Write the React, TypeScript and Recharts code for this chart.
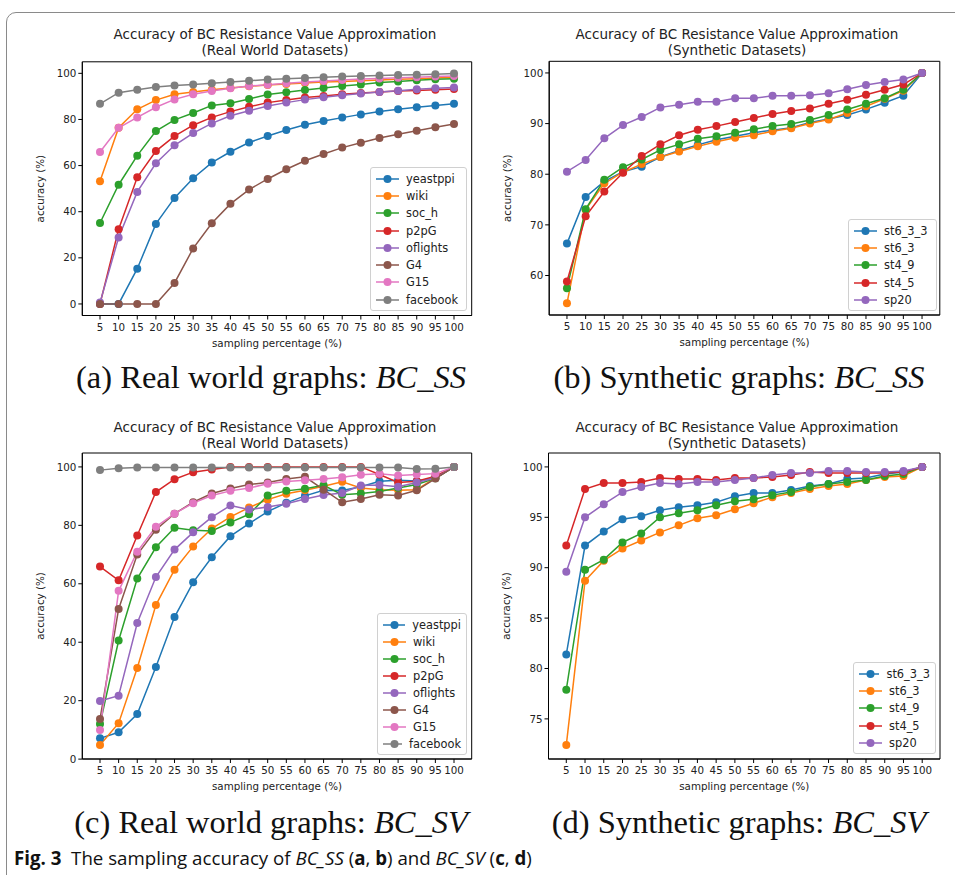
import React from 'react'
import { LineChart, Line, XAxis, YAxis, Legend, ReferenceArea } from 'recharts'

// sampling percentages on the x axis
const samplingPct = [5, 10, 15, 20, 25, 30, 35, 40, 45, 50, 55, 60, 65, 70, 75, 80, 85, 90, 95, 100]

const realNames = ['yeastppi', 'wiki', 'soc_h', 'p2pG', 'oflights', 'G4', 'G15', 'facebook']
const synthNames = ['st6_3_3', 'st6_3', 'st4_9', 'st4_5', 'sp20']
const tabColors = ['#1f77b4', '#ff7f0e', '#2ca02c', '#d62728', '#9467bd', '#8c564b', '#e377c2', '#7f7f7f']

const realTicks = [0, 20, 40, 60, 80, 100]
const ssSynthTicks = [60, 70, 80, 90, 100]
const svSynthTicks = [75, 80, 85, 90, 95, 100]

// (a) BC_SS, real world
const ssYeastppi = [0, 0, 15.3, 34.7, 46, 54.5, 61.3, 66, 70, 72.8, 75.4, 77.7, 79.3, 80.8, 82.2, 83.4, 84.4, 85.3, 86, 86.8]
const ssWiki = [53.2, 76.4, 84.4, 88.4, 90.9, 91.9, 92.9, 93.6, 94.4, 94.9, 95.4, 95.8, 96.2, 96.5, 96.8, 97.1, 97.4, 97.7, 98, 98.3]
const ssSocH = [35.1, 51.7, 64.3, 75, 79.8, 82.8, 86.1, 87, 88.9, 90.8, 91.8, 92.8, 93.6, 94.5, 95.2, 96, 96.5, 97, 97.4, 97.7]
const ssP2pG = [0, 32.4, 54.9, 66.3, 72.8, 77.5, 80.9, 83.4, 85.5, 87.3, 88.4, 89.5, 90.2, 90.9, 91.5, 91.9, 92.3, 92.6, 92.9, 93.2]
const ssOflights = [0.6, 28.8, 48.6, 61, 68.8, 74.1, 78.3, 81.6, 83.8, 85.8, 87.3, 88.6, 89.6, 90.5, 91.3, 91.9, 92.5, 93.1, 93.5, 93.9]
const ssG4 = [0, 0, 0, 0, 9.1, 24.1, 35, 43.4, 49.6, 54.2, 58.4, 62.1, 65, 67.8, 69.9, 72, 73.6, 75.1, 76.6, 78]
const ssG15 = [65.9, 76.4, 80.9, 85.3, 88.7, 90.9, 92.3, 93.5, 94.5, 95.1, 95.7, 96.2, 96.7, 97.1, 97.5, 97.8, 98.1, 98.3, 98.6, 98.8]
const ssFacebook = [86.8, 91.6, 92.9, 94.1, 94.7, 95.2, 95.7, 96.2, 96.8, 97.3, 97.7, 98, 98.3, 98.6, 98.8, 99.1, 99.3, 99.4, 99.6, 99.9]

// (b) BC_SS, synthetic
const ssSt633 = [66.3, 75.5, 78.6, 80.5, 81.5, 83.4, 84.7, 85.8, 86.8, 87.5, 88.2, 88.7, 89.2, 90.2, 90.9, 91.7, 92.8, 94.1, 95.5, 100]
const ssSt63 = [54.5, 73, 78.2, 80.4, 82, 83.4, 84.5, 85.5, 86.4, 87.2, 87.7, 88.5, 89.1, 90, 90.8, 92.1, 93.4, 94.9, 96.5, 100]
const ssSt49 = [57.5, 73.1, 78.9, 81.4, 82.9, 84.8, 85.9, 87, 87.5, 88.2, 88.9, 89.5, 89.9, 90.7, 91.7, 92.8, 93.9, 95, 96.7, 100]
const ssSt45 = [58.8, 71.7, 76.6, 80.3, 83.6, 85.9, 87.7, 88.8, 89.5, 90.3, 91.1, 91.9, 92.5, 93, 93.9, 94.7, 95.7, 96.7, 97.7, 100]
const ssSp20 = [80.5, 82.8, 87.1, 89.7, 91.3, 93.2, 93.7, 94.3, 94.3, 95, 95, 95.5, 95.5, 95.6, 96, 96.8, 97.6, 98.2, 98.7, 100]

// (c) BC_SV, real world
const svYeastppi = [7.1, 9.2, 15.4, 31.5, 48.6, 60.5, 69.1, 76.3, 80.6, 84.7, 87.7, 90.1, 92, 91.9, 93.2, 95.1, 95.4, 95.2, 96.2, 100]
const svWiki = [4.8, 12.3, 31.2, 52.7, 64.8, 72.8, 78.9, 82.9, 86.1, 88.8, 90.8, 92, 93.4, 94.9, 92.8, 92.2, 92, 92.2, 96.2, 100]
const svSocH = [12, 40.6, 61.8, 72.5, 79.2, 78.3, 78.1, 81, 83.8, 90.2, 91.8, 92.5, 93.7, 90.5, 90.9, 91.6, 92.8, 94, 96.1, 100]
const svP2pG = [65.9, 61.2, 76.5, 91.4, 95.8, 98.2, 99.1, 100, 100, 100, 100, 100, 100, 100, 100, 97.4, 94.7, 95.1, 96.8, 100]
const svOflights = [19.9, 21.7, 46.6, 62.3, 71.7, 77.6, 82.8, 86.8, 85.4, 86.3, 87.4, 89, 90.4, 91.1, 93.6, 93.8, 93.2, 94.7, 96.2, 100]
const svG4 = [13.7, 51.4, 70, 78.5, 84, 87.9, 90.9, 92.6, 94, 94.7, 95.9, 96.6, 92.2, 87.9, 89, 90.5, 90.2, 92, 96, 100]
const svG15 = [10, 57.6, 71, 79.5, 84, 87.6, 90.2, 91.8, 92.8, 94.2, 95, 95.4, 95.9, 96.5, 97.3, 97.7, 97.1, 97.4, 97.7, 100]
const svFacebook = [98.9, 99.5, 99.8, 99.8, 99.8, 99.8, 99.8, 99.8, 99.8, 99.8, 99.8, 99.8, 99.8, 99.8, 99.8, 99.8, 99.8, 99.3, 99.4, 100]

// (d) BC_SV, synthetic
const svSt633 = [81.4, 92.2, 93.6, 94.8, 95.1, 95.7, 96, 96.2, 96.5, 97.1, 97.4, 97.4, 97.7, 98.1, 98.3, 98.8, 98.9, 99.3, 99.5, 100]
const svSt63 = [72.4, 88.7, 90.7, 91.9, 92.7, 93.5, 94.2, 94.9, 95.2, 95.8, 96.4, 97, 97.4, 97.8, 98.1, 98.3, 98.7, 99, 99.1, 100]
const svSt49 = [77.9, 89.8, 90.8, 92.5, 93.4, 95, 95.4, 95.7, 96.2, 96.6, 96.8, 97.2, 97.5, 98, 98.3, 98.5, 98.7, 99.1, 99.3, 100]
const svSt45 = [92.2, 97.8, 98.4, 98.4, 98.5, 98.9, 98.8, 98.8, 98.7, 98.9, 98.9, 99, 99.2, 99.5, 99.4, 99.4, 99.4, 99.4, 99.5, 100]
const svSp20 = [89.6, 95, 96.3, 97.5, 98, 98.4, 98.3, 98.5, 98.5, 98.7, 98.9, 99.2, 99.4, 99.4, 99.6, 99.6, 99.5, 99.5, 99.6, 100]

const toRows = (names: string[], series: number[][]) =>
  samplingPct.map((pct, i) => {
    const row: Record<string, number> = { pct }
    names.forEach((n, k) => { row[n] = series[k][i] })
    return row
  })

const ssRealRows = toRows(realNames, [ssYeastppi, ssWiki, ssSocH, ssP2pG, ssOflights, ssG4, ssG15, ssFacebook])
const ssSynthRows = toRows(synthNames, [ssSt633, ssSt63, ssSt49, ssSt45, ssSp20])
const svRealRows = toRows(realNames, [svYeastppi, svWiki, svSocH, svP2pG, svOflights, svG4, svG15, svFacebook])
const svSynthRows = toRows(synthNames, [svSt633, svSt63, svSt49, svSt45, svSp20])

const sans = '"DejaVu Sans", sans-serif'
const serif = '"Liberation Serif", "DejaVu Serif", serif'
const ink = '#222'
const yAxisW = 52
const xAxisH = 36
const xDomain = [0.25, 104.75]

const LegendBox = ({ names, rowH }: { names: string[]; rowH: number }) => (
  <div style={{
    border: '1px solid #d0d0d0', borderRadius: 3, background: 'rgba(255,255,255,0.85)',
    padding: '2px 5px 2px 5px', fontFamily: sans, fontSize: 11.4, color: ink
  }}>
    {names.map((n, i) => (
      <div key={n} style={{ display: 'flex', alignItems: 'center', height: rowH }}>
        <svg width={23} height={10}>
          <line x1={0} y1={5} x2={23} y2={5} stroke={tabColors[i]} strokeWidth={1.5} />
          <circle cx={11.5} cy={5} r={4} fill={tabColors[i]} />
        </svg>
        <span style={{ marginLeft: 7 }}>{n}</span>
      </div>
    ))}
  </div>
)

interface PanelProps {
  rows: Record<string, number>[]
  names: string[]
  yDomain: number[]
  yTicks: number[]
  frame: { x0: number; x1: number; y0: number; y1: number }
  box: { left: number; top: number; width: number; height: number }
  legendAt: { left: number; top: number; width: number; rowH: number }
}

const Panel = ({ rows, names, yDomain, yTicks, frame, box, legendAt }: PanelProps) => {
  const margin = {
    top: frame.y0 - box.top,
    left: frame.x0 - box.left - yAxisW,
    right: box.left + box.width - frame.x1,
    bottom: box.top + box.height - frame.y1 - xAxisH
  }
  const tickStyle = { fontFamily: sans, fontSize: 10.3, fill: ink }
  return (
    <div style={{ position: 'absolute', left: box.left, top: box.top }}>
      <LineChart width={box.width} height={box.height} data={rows} margin={margin}>
        <XAxis
          dataKey="pct"
          type="number"
          domain={xDomain}
          ticks={samplingPct}
          interval={0}
          allowDataOverflow
          height={xAxisH}
          tickSize={4}
          tickMargin={4}
          tick={tickStyle}
          stroke="#000"
          tickLine={{ stroke: '#000' }}
          label={{ value: 'sampling percentage (%)', position: 'insideBottom', offset: 5, style: { fontFamily: sans, fontSize: 10.3, fill: ink } }}
        />
        <YAxis
          type="number"
          domain={yDomain}
          ticks={yTicks}
          allowDataOverflow
          width={yAxisW}
          tickSize={4}
          tickMargin={2}
          tick={tickStyle}
          stroke="#000"
          label={{ value: 'accuracy (%)', angle: -90, position: 'insideLeft', offset: 10, style: { textAnchor: 'middle', fontFamily: sans, fontSize: 10.3, fill: ink } }}
        />
        {names.map((n, i) => (
          <Line
            key={n}
            type="linear"
            dataKey={n}
            stroke={tabColors[i]}
            strokeWidth={1.5}
            dot={{ r: 4, fill: tabColors[i], stroke: tabColors[i], strokeWidth: 0 }}
            isAnimationActive={false}
          />
        ))}
        <ReferenceArea
          x1={xDomain[0]}
          x2={xDomain[1]}
          y1={yDomain[0]}
          y2={yDomain[1]}
          fill="none"
          stroke="#000"
          strokeWidth={1}
          ifOverflow="visible"
        />
        <Legend
          layout="vertical"
          align="center"
          verticalAlign="middle"
          wrapperStyle={{ left: legendAt.left - box.left, top: legendAt.top - box.top, width: legendAt.width, right: 'auto', bottom: 'auto' }}
          content={() => <LegendBox names={names} rowH={legendAt.rowH} />}
        />
      </LineChart>
    </div>
  )
}

const Title = ({ cx, top, sub }: { cx: number; top: number; sub: string }) => (
  <div style={{ position: 'absolute', left: cx - 220, top, width: 440, textAlign: 'center', fontFamily: sans, fontSize: 13.5, lineHeight: '16px', color: ink }}>
    <div>Accuracy of BC Resistance Value Approximation</div>
    <div>{sub}</div>
  </div>
)

const Caption = ({ cx, top, label, metric }: { cx: number; top: number; label: string; metric: string }) => (
  <div style={{ position: 'absolute', left: cx - 250, top, width: 500, textAlign: 'center', fontFamily: serif, fontSize: 32.5, lineHeight: '36px', color: '#111', whiteSpace: 'nowrap' }}>
    {label} <i>{metric}</i>
  </div>
)

export default function App() {
  return (
    <div style={{ position: 'absolute', left: 0, top: 0, width: 955, height: 875, background: '#fff', overflow: 'hidden' }}>
      <div style={{ position: 'absolute', left: 6, top: 12, width: 980, height: 900, border: '1px solid #8a8a8a', borderTopLeftRadius: 10 }} />

      <Title cx={275} top={26} sub="(Real World Datasets)" />
      <Title cx={737} top={26} sub="(Synthetic Datasets)" />
      <Title cx={275} top={419} sub="(Real World Datasets)" />
      <Title cx={737} top={419} sub="(Synthetic Datasets)" />

      <Panel
        rows={ssRealRows}
        names={realNames}
        yDomain={[-5, 105]}
        yTicks={realTicks}
        frame={{ x0: 82.3, x1: 471.7, y0: 61.8, y1: 315.5 }}
        box={{ left: 0, top: 50, width: 480, height: 304 }}
        legendAt={{ left: 370, top: 167, width: 97, rowH: 17.3 }}
      />
      <Panel
        rows={ssSynthRows}
        names={synthNames}
        yDomain={[52.2, 102.3]}
        yTicks={ssSynthTicks}
        frame={{ x0: 549.2, x1: 939.8, y0: 61.3, y1: 315 }}
        box={{ left: 470, top: 50, width: 480, height: 304 }}
        legendAt={{ left: 848, top: 219, width: 89, rowH: 17.3 }}
      />
      <Panel
        rows={svRealRows}
        names={realNames}
        yDomain={[0.04, 104.76]}
        yTicks={realTicks}
        frame={{ x0: 82.3, x1: 471.7, y0: 453, y1: 759 }}
        box={{ left: 0, top: 440, width: 480, height: 356 }}
        legendAt={{ left: 377, top: 613, width: 90, rowH: 17 }}
      />
      <Panel
        rows={svSynthRows}
        names={synthNames}
        yDomain={[71.02, 101.38]}
        yTicks={svSynthTicks}
        frame={{ x0: 548.5, x1: 940, y0: 453, y1: 759 }}
        box={{ left: 470, top: 440, width: 480, height: 356 }}
        legendAt={{ left: 853, top: 662, width: 83, rowH: 17.3 }}
      />

      <Caption cx={271} top={359} label="(a) Real world graphs:" metric="BC_SS" />
      <Caption cx={739} top={359} label="(b) Synthetic graphs:" metric="BC_SS" />
      <Caption cx={271} top={804} label="(c) Real world graphs:" metric="BC_SV" />
      <Caption cx={739} top={804} label="(d) Synthetic graphs:" metric="BC_SV" />

      <div style={{ position: 'absolute', left: 14, top: 845, fontFamily: '"Open Sans", sans-serif', fontSize: 18.7, lineHeight: '26px', color: '#111', whiteSpace: 'nowrap' }}>
        <b>Fig. 3</b>&nbsp; The sampling accuracy of <i>BC_SS</i> (<b>a</b>, <b>b</b>) and <i>BC_SV</i> (<b>c</b>, <b>d</b>)
      </div>
    </div>
  )
}
